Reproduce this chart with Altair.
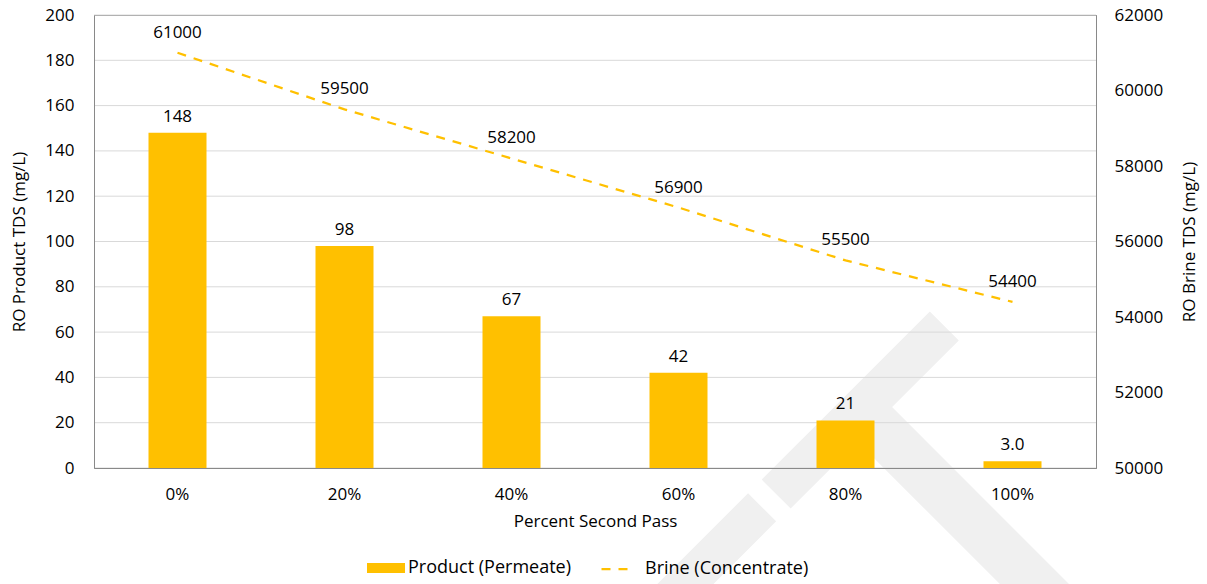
import altair as alt
import pandas as pd

# Percent of flow sent through the second RO pass
passes = ["0%", "20%", "40%", "60%", "80%", "100%"]
# Product (permeate) TDS, mg/L
product_tds = [148, 98, 67, 42, 21, 3.0]
product_labels = ["148", "98", "67", "42", "21", "3.0"]
# Brine (concentrate) TDS, mg/L
brine_tds = [61000, 59500, 58200, 56900, 55500, 54400]

series_names = ["Product (Permeate)", "Brine (Concentrate)"]

product_ticks = list(range(0, 201, 20))
brine_ticks = list(range(50000, 62001, 2000))

df = pd.DataFrame({
    "pass": passes,
    "product": product_tds,
    "product_label": product_labels,
    "brine": brine_tds,
})
grid_df = pd.DataFrame({"product": product_ticks})
stamp = pd.DataFrame({"word": ["DRAFT"]})

GOLD = "#FFC000"
FONT = "Open Sans"
INK = "#000000"
FRAME = "#898989"
GRID = "#d9d9d9"
FS = 17

axis_text = dict(labelFontSize=FS, titleFontSize=FS, labelColor=INK,
                 titleColor=INK, titleFontWeight="normal", labelFont=FONT,
                 titleFont=FONT, zindex=1, ticks=False)

x_enc = alt.X(
    "pass:N", sort=passes, title="Percent Second Pass",
    scale=alt.Scale(paddingInner=0, paddingOuter=0),
    axis=alt.Axis(labelAngle=0, grid=False, domain=True, domainColor=FRAME,
                  labelPadding=18, titlePadding=11, **axis_text),
)

product_y = alt.Y(
    "product:Q", title="RO Product TDS (mg/L)",
    scale=alt.Scale(domain=[0, 200], nice=False),
    axis=alt.Axis(values=product_ticks, grid=False, domain=True,
                  domainColor=FRAME, labelPadding=20, titlePadding=16,
                  **axis_text),
)

brine_y = alt.Y(
    "brine:Q", title="RO Brine TDS (mg/L)",
    scale=alt.Scale(domain=[50000, 62000], nice=False),
    axis=alt.Axis(orient="right", values=brine_ticks, format="d", grid=False,
                  domain=True, domainColor=FRAME, labelPadding=18,
                  titlePadding=36, titleAngle=270, **axis_text),
)

# Faint watermark stamp behind everything in the plot
watermark = alt.Chart(stamp).mark_text(
    angle=315, align="right", baseline="alphabetic", fontSize=420,
    fontWeight=600, color="#f0f0f0", font="Lato",
).encode(x=alt.value(1054), y=alt.value(506), text="word:N")

# Horizontal gridlines, drawn above the watermark but under the bars
gridlines = alt.Chart(grid_df).mark_rule(color=GRID, strokeWidth=1).encode(
    y=product_y
)

prod_base = alt.Chart(df).encode(x=x_enc, y=product_y)
bars = prod_base.mark_bar(size=58).transform_calculate(
    series=f"'{series_names[0]}'"
).encode(
    color=alt.Color(
        "series:N",
        scale=alt.Scale(domain=[series_names[0]], range=[GOLD]),
        legend=alt.Legend(
            title=None, orient="none", legendX=273, legendY=534,
            symbolType="M-1,-0.26H1V0.26H-1Z", symbolSize=1444,
            symbolStrokeWidth=0, labelFontSize=18, labelColor=INK,
            labelOffset=3, labelFont=FONT, labelLimit=400,
        ),
    )
)
bar_text = prod_base.mark_text(dy=-16, fontSize=FS, color=INK, baseline="middle").encode(
    text="product_label:N"
)

brine_base = alt.Chart(df).encode(x=x_enc, y=brine_y)
line = brine_base.mark_line(color=GOLD, strokeWidth=2.25).transform_calculate(
    series=f"'{series_names[1]}'"
).encode(
    strokeDash=alt.StrokeDash(
        "series:N",
        scale=alt.Scale(domain=[series_names[1]], range=[[9, 8]]),
        legend=alt.Legend(
            title=None, orient="none", legendX=506, legendY=536,
            symbolType="stroke", symbolSize=1089, symbolStrokeColor=GOLD,
            symbolStrokeWidth=2.25, labelFontSize=18, labelColor=INK,
            labelOffset=9, labelFont=FONT, labelLimit=400,
        ),
    )
)
line_text = brine_base.mark_text(dy=-20, fontSize=FS, color=INK, baseline="middle").encode(
    text=alt.Text("brine:Q", format="d")
)

chart = (
    alt.layer(
        watermark,
        alt.layer(gridlines, bars, bar_text),
        alt.layer(line, line_text),
    )
    .resolve_scale(y="independent")
    .properties(
        width=1002, height=453,
        autosize=alt.AutoSizeParams(type="none"),
        padding={"left": 94, "top": 15, "right": 111, "bottom": 116},
        background="white",
    )
    .configure(font=FONT)
    .configure_view(stroke=FRAME, strokeWidth=1)
)

chart.save("out.html", embed_options={"renderer": "svg", "actions": False})
